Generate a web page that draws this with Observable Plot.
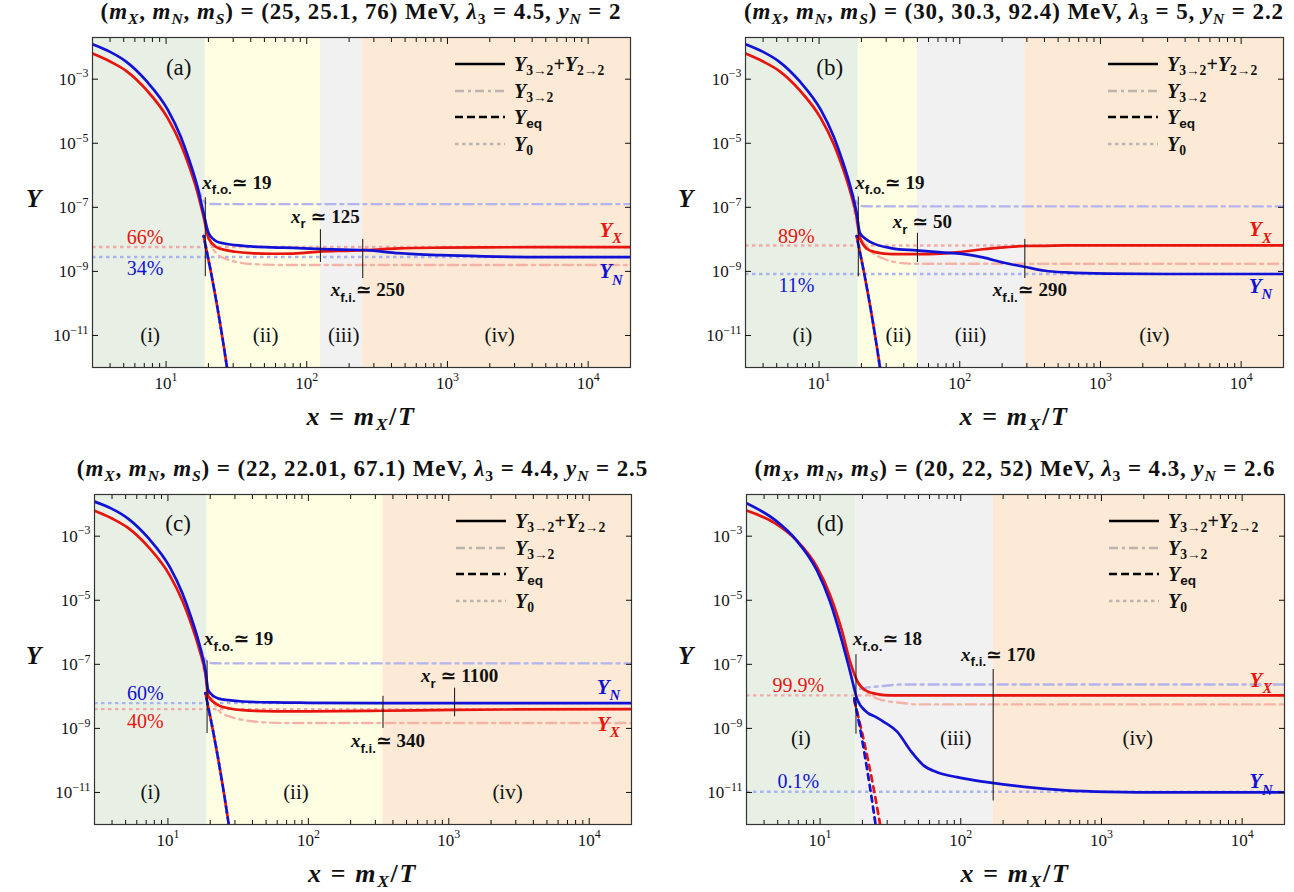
<!DOCTYPE html>
<html><head><meta charset="utf-8">
<script src="https://cdn.jsdelivr.net/npm/d3@7"></script>
<script src="https://cdn.jsdelivr.net/npm/@observablehq/plot@0.6"></script>
<style>
body{margin:0;background:#fff;}
#root{position:relative;width:1294px;height:892px;overflow:hidden;font-family:"Liberation Serif","DejaVu Serif",serif;color:#111;}
.panel{position:absolute;}
.title{position:absolute;text-align:center;font-weight:bold;font-size:23px;letter-spacing:0.9px;white-space:nowrap;line-height:24px;}
.ylab{position:absolute;font-weight:bold;font-style:italic;font-size:25px;}
.xlab{position:absolute;text-align:center;font-weight:bold;font-size:26px;letter-spacing:1.6px;white-space:nowrap;}
.legend{position:absolute;font-weight:bold;font-size:20px;}
.legend .row{position:absolute;left:0;height:24px;white-space:nowrap;}
.legend svg{position:absolute;left:0;top:7px;}
.legend .lt{position:absolute;left:60px;top:0;line-height:24px;}
sub{font-size:0.68em;vertical-align:-0.3em;line-height:0;}
.sans{font-family:"Liberation Sans","DejaVu Sans",sans-serif;}
</style></head>
<body><div id="root"></div>
<script>
// ---------- data ----------
const xMajor = [10, 100, 1000, 10000];
const xMinor = [4,5,6,7,8,9,20,30,40,50,60,70,80,90,200,300,400,500,600,700,800,900,2000,3000,4000,5000,6000,7000,8000,9000];
const yTicks = [1e-3, 1e-5, 1e-7, 1e-9, 1e-11];

// panel (a)
const titleA = ["25", "25.1", "76", "4.5", "2"];
const xA  = [3, 4, 5.2, 7.3, 10.3, 12.7, 14.6, 16.7, 18.5, 20.1, 23, 26, 31, 40, 57, 80, 129, 180, 263, 450, 900, 1800, 5000, 20000];
const yXA = [6.3e-3, 3.55e-3, 1.82e-3, 4.47e-4, 6.0e-5, 9.5e-6, 1.9e-6, 3.0e-7, 5.0e-8, 1.05e-8, 5.6e-9, 4.7e-9, 4.1e-9, 3.7e-9, 3.55e-9, 3.6e-9, 4.2e-9, 4.4e-9, 4.6e-9, 5.25e-9, 5.5e-9, 5.6e-9, 5.75e-9, 5.75e-9];
const yNA = [1.23e-2, 7.1e-3, 3.55e-3, 8.5e-4, 1.1e-4, 1.62e-5, 3.0e-6, 4.4e-7, 6.5e-8, 1.55e-8, 8.5e-9, 7.4e-9, 6.6e-9, 6.0e-9, 5.6e-9, 5.4e-9, 5.0e-9, 4.8e-9, 4.6e-9, 3.7e-9, 3.2e-9, 2.95e-9, 2.8e-9, 2.8e-9];
const ddXA_x = [17, 19, 21, 23, 27, 33, 45, 70, 20000];
const ddXA_y = [3.2e-7, 3.2e-8, 6.3e-9, 3.55e-9, 2.4e-9, 1.9e-9, 1.66e-9, 1.58e-9, 1.58e-9];
const ddNA_x = [14.5, 16, 17.5, 19, 21, 25, 20000];
const ddNA_y = [2e-6, 7e-7, 2.6e-7, 1.4e-7, 1.27e-7, 1.26e-7, 1.26e-7];
const y0A = [5.75e-9, 2.8e-9]; // [X, N]
const boundsA = [3, 19, 125, 250, 20000];
const kindsA = ["i", "ii", "iii", "iv"];
const markA = [{x:19, y1:2.0e-7, y2:6.8e-10}, {x:125, y1:2.0e-8, y2:1.9e-9}, {x:250, y1:1e-8, y2:6.0e-10}];
const markLabA = [{t:"*x*_[f.o.]≃ 19", x:19, y:5.9e-7, k:"fo"}, {t:"*x*_[r] ≃ 125", x:125, y:5.1e-8, k:"r"}, {t:"*x*_[f.i.]≃ 250", x:250, y:2.6e-10, k:"fi"}];
const pctA = [{t:"66%", x:7.1, y:1.15e-8, s:"X"}, {t:"34%", x:7.1, y:1.26e-9, s:"N"}];
const curveLabA = [{t:"*Y*_{*X*}", x:14500, y:1.95e-8, s:"X"}, {t:"*Y*_{*N*}", x:14500, y:9.8e-10, s:"N"}];
const regLabA = [{t:"(i)", x:7.7, y:1e-11}, {t:"(ii)", x:51, y:1e-11}, {t:"(iii)", x:183, y:1e-11}, {t:"(iv)", x:2350, y:1e-11}];
const letterA = {t:"(a)", x:12.3, y:2.3e-3};

// panel (b)
const titleB = ["30", "30.3", "92.4", "5", "2.2"];
const xB  = [3, 4, 5.2, 7.3, 10.3, 12.7, 14.6, 16.7, 18.5, 19.5, 22, 25, 33, 49, 74, 104, 146, 206, 287, 404, 568, 1117, 3000, 20000];
const yXB = [6.3e-3, 3.55e-3, 1.82e-3, 4.47e-4, 6.0e-5, 9.5e-6, 1.9e-6, 3.0e-7, 5.0e-8, 1.12e-8, 5.0e-9, 4.0e-9, 3.47e-9, 3.47e-9, 3.6e-9, 4.1e-9, 4.9e-9, 5.6e-9, 6.2e-9, 6.3e-9, 6.45e-9, 6.45e-9, 6.45e-9, 6.45e-9];
const yNB = [1.23e-2, 7.1e-3, 3.55e-3, 8.5e-4, 1.1e-4, 1.62e-5, 3.0e-6, 4.4e-7, 6.5e-8, 1.6e-8, 9.5e-9, 7.1e-9, 5.25e-9, 4.5e-9, 3.9e-9, 3.5e-9, 2.75e-9, 1.86e-9, 1.4e-9, 1.05e-9, 9.3e-10, 8.5e-10, 8.3e-10, 8.3e-10];
const ddXB_x = [17, 19, 22.8, 28.3, 37.2, 46, 20000];
const ddXB_y = [2.3e-7, 2.0e-8, 4.7e-9, 2.57e-9, 1.86e-9, 1.74e-9, 1.74e-9];
const ddNB_x = [14.5, 16, 17.5, 19, 21, 25, 20000];
const ddNB_y = [2e-6, 7e-7, 2.4e-7, 1.25e-7, 1.08e-7, 1.07e-7, 1.07e-7];
const y0B = [6.45e-9, 8.3e-10];
const boundsB = [3, 19, 50, 290, 20000];
const kindsB = ["i", "ii", "iii", "iv"];
const markB = [{x:19, y1:2.1e-7, y2:6.8e-10}, {x:50, y1:1.55e-8, y2:1.9e-9}, {x:290, y1:1e-8, y2:6.0e-10}];
const markLabB = [{t:"*x*_[f.o.]≃ 19", x:19, y:5.9e-7, k:"fo"}, {t:"*x*_[r] ≃ 50", x:50, y:3.55e-8, k:"r"}, {t:"*x*_[f.i.]≃ 290", x:290, y:2.6e-10, k:"fi"}];
const pctB = [{t:"89%", x:6.9, y:1.26e-8, s:"X"}, {t:"11%", x:6.9, y:3.55e-10, s:"N"}];
const curveLabB = [{t:"*Y*_{*X*}", x:13700, y:2.0e-8, s:"X"}, {t:"*Y*_{*N*}", x:13700, y:3.55e-10, s:"N"}];
const regLabB = [{t:"(i)", x:7.6, y:1e-11}, {t:"(ii)", x:36.6, y:1e-11}, {t:"(iii)", x:119, y:1e-11}, {t:"(iv)", x:2415, y:1e-11}];
const letterB = {t:"(b)", x:11.9, y:2.3e-3};

// panel (c)
const titleC = ["22", "22.01", "67.1", "4.4", "2.5"];
const xC  = [3, 4, 5.2, 7.3, 10.3, 12.7, 14.6, 16.7, 18.5, 19.4, 23, 27, 34, 58, 100, 340, 1100, 3000, 20000];
const yXC = [6.2e-3, 3.55e-3, 1.82e-3, 4.47e-4, 6.0e-5, 9.5e-6, 1.9e-6, 3.0e-7, 5.0e-8, 1.0e-8, 5.25e-9, 4.27e-9, 3.7e-9, 3.4e-9, 3.4e-9, 3.55e-9, 3.8e-9, 3.9e-9, 4.0e-9];
const yNC = [1.2e-2, 7.1e-3, 3.55e-3, 8.5e-4, 1.1e-4, 1.62e-5, 3.0e-6, 4.4e-7, 6.5e-8, 1.5e-8, 8.5e-9, 7.6e-9, 6.9e-9, 6.45e-9, 6.3e-9, 6.15e-9, 6.15e-9, 6.15e-9, 6.15e-9];
const ddXC_x = [17, 19, 21, 23, 27, 33, 45, 70, 20000];
const ddXC_y = [2.3e-7, 2.6e-8, 7.1e-9, 3.6e-9, 2.4e-9, 1.9e-9, 1.58e-9, 1.48e-9, 1.48e-9];
const ddNC_x = [14.5, 16, 17.5, 19, 21, 25, 20000];
const ddNC_y = [2e-6, 7e-7, 2.4e-7, 1.25e-7, 1.08e-7, 1.07e-7, 1.07e-7];
const y0C = [4.0e-9, 6.15e-9];
const boundsC = [3, 19, 340, 20000];
const kindsC = ["i", "ii", "iv"];
const markC = [{x:19, y1:1.26e-7, y2:6.9e-10}, {x:340, y1:1e-8, y2:1e-9}, {x:1100, y1:1.8e-8, y2:2.3e-9}];
const markLabC = [{t:"*x*_[f.o.]≃ 19", x:19, y:6.2e-7, k:"fo"}, {t:"*x*_[f.i.]≃ 340", x:340, y:4.1e-10, k:"fi"}, {t:"*x*_[r] ≃ 1100", x:1100, y:4.3e-8, k:"r"}];
const pctC = [{t:"60%", x:6.9, y:1.23e-8, s:"N"}, {t:"40%", x:6.9, y:1.58e-9, s:"X"}];
const curveLabC = [{t:"*Y*_{*N*}", x:13700, y:1.9e-8, s:"N"}, {t:"*Y*_{*X*}", x:13700, y:1.35e-9, s:"X"}];
const regLabC = [{t:"(i)", x:7.5, y:1e-11}, {t:"(ii)", x:81.6, y:1e-11}, {t:"(iv)", x:2620, y:1e-11}];
const letterC = {t:"(c)", x:11.8, y:2.5e-3};

// Y_eq shared by (a), (b), (c)
const eqABC_x = [18.5, 19, 21, 23, 25, 27, 29];
const eqABC_y = [1.26e-8, 7.1e-9, 7.9e-10, 8.9e-11, 1e-11, 1.12e-12, 1.26e-13];

// panel (d)
const titleD = ["20", "22", "52", "4.3", "2.6"];
const xD  = [3, 4.8, 6.8, 9.5, 11.7, 14.3, 16.3, 18.4, 21.5, 25, 28.5, 35.4, 44, 54.6, 67.8, 94, 153, 283, 558, 1100, 3000, 20000];
const yXD = [6.3e-3, 2.5e-3, 7.4e-4, 1.1e-4, 1.58e-5, 1.12e-6, 1.26e-7, 3.0e-8, 1.45e-8, 1.2e-8, 1.1e-8, 1.07e-8, 1.07e-8, 1.07e-8, 1.07e-8, 1.07e-8, 1.07e-8, 1.07e-8, 1.07e-8, 1.07e-8, 1.07e-8, 1.07e-8];
const yND = [1.07e-2, 3.16e-3, 7.4e-4, 8.5e-5, 9.8e-6, 5.4e-7, 6.2e-8, 7.9e-9, 3.2e-9, 2.24e-9, 1.58e-9, 7.8e-10, 2.0e-10, 6.9e-11, 4.3e-11, 3.0e-11, 2.1e-11, 1.5e-11, 1.17e-11, 1.05e-11, 1.0e-11, 1.0e-11];
const ddXD_x = [16.3, 18.4, 21.5, 25.5, 30, 37.3, 50, 20000];
const ddXD_y = [1.26e-7, 2.8e-8, 1.26e-8, 8.5e-9, 7.1e-9, 6.3e-9, 5.6e-9, 5.6e-9];
const ddND_x = [16.3, 18.1, 22, 28, 37, 20000];
const ddND_y = [6.2e-8, 1.7e-8, 1.9e-8, 2.1e-8, 2.34e-8, 2.34e-8];
const eqXD_x = [17.5, 20, 22, 24, 26, 28];
const eqXD_y = [7.4e-9, 6.6e-10, 9.5e-11, 1.38e-11, 2.0e-12, 2.9e-13];
const eqND_x = [17.5, 20, 22, 24, 26];
const eqND_y = [8.7e-9, 3.9e-10, 3.2e-11, 2.7e-12, 2.2e-13];
const y0D = [1.07e-8, 1.05e-11];
const boundsD = [3, 18, 170, 20000];
const kindsD = ["i", "iii", "iv"];
const markD = [{x:18, y1:2.0e-7, y2:6.6e-10}, {x:170, y1:6.9e-8, y2:5.4e-12}];
const markLabD = [{t:"*x*_[f.o.]≃ 18", x:18, y:6.2e-7, k:"fo"}, {t:"*x*_[f.i.]≃ 170", x:170, y:2.0e-7, k:"fi"}];
const pctD = [{t:"99.9%", x:7.0, y:2.2e-8, s:"X"}, {t:"0.1%", x:7.0, y:2.2e-11, s:"N"}];
const curveLabD = [{t:"*Y*_{*X*}", x:13600, y:3.2e-8, s:"X"}, {t:"*Y*_{*N*}", x:13600, y:2.2e-11, s:"N"}];
const regLabD = [{t:"(i)", x:7.3, y:5e-10}, {t:"(iii)", x:92, y:5e-10}, {t:"(iv)", x:1810, y:5e-10}];
const letterD = {t:"(d)", x:11.8, y:2.5e-3};

// ---------- styles ----------
const REGION_FILL = {i:"#e8f0e6", ii:"#fefee3", iii:"#f1f1f1", iv:"#fdead6"};
const RED = "#e8150e", BLUE = "#1212d4";
const LRED = "#f5b3a8", LBLUE = "#b3b3ee";
const DRED = "#f2a9a9", DBLUE = "#a9b3ef";
const SERIF = "Liberation Serif, DejaVu Serif, serif";

const zipXY = (xs, ys) => xs.map((x, i) => ({x, y: ys[i]}));
const powFmt = d => "10^{" + String(Math.round(Math.log10(d))).replace("-", "\u2212") + "}";

function richify(svg) {
  d3.select(svg).selectAll("text").each(function () {
    const el = this;
    if (el.querySelector("tspan")) return;
    const s = el.textContent;
    if (!/[_^*]/.test(s)) return;
    const fs = parseFloat(getComputedStyle(el).fontSize) || 14;
    const tokens = [];
    let italic = false, level = 0, sans = false, buf = "", i = 0;
    const flush = () => { if (buf) tokens.push({t: buf, italic, level, sans}); buf = ""; };
    while (i < s.length) {
      const c = s[i];
      if (c === "*") { flush(); italic = !italic; i++; continue; }
      if ((c === "_" || c === "^") && (s[i + 1] === "{" || s[i + 1] === "[")) {
        flush(); level = c === "_" ? -1 : 1; sans = s[i + 1] === "["; i += 2; continue;
      }
      if ((c === "}" || c === "]") && level !== 0) { flush(); level = 0; sans = false; i++; continue; }
      buf += c; i++;
    }
    flush();
    el.textContent = "";
    let cur = 0;
    for (const tk of tokens) {
      const off = tk.level === -1 ? 0.3 * fs : tk.level === 1 ? -0.42 * fs : 0;
      const sp = d3.select(el).append("tspan").text(tk.t);
      if (off !== cur) sp.attr("dy", off - cur);
      cur = off;
      if (tk.italic) sp.attr("font-style", "italic");
      if (tk.level) sp.attr("font-size", (0.7 * fs).toFixed(1));
      if (tk.sans) sp.attr("font-family", "Liberation Sans, DejaVu Sans, sans-serif");
    }
  });
}

const root = document.getElementById("root");

function drawPanel(p, lay) {
  const wrap = document.createElement("div");
  wrap.className = "panel";
  Object.assign(wrap.style, {left: lay.left + "px", top: lay.top + "px", width: lay.width + "px", height: "440px"});
  root.appendChild(wrap);

  const rows = p.x.map((x, i) => ({x, yX: p.yX[i], yN: p.yN[i]}));
  const regions = d3.pairs(p.bounds).map(([x1, x2], i) => ({x1, x2, kind: p.kinds[i]}));
  const frameW = lay.width - lay.ml - lay.mr;

  const svg = Plot.plot({
    width: lay.width,
    height: 373,
    marginLeft: lay.ml, marginRight: lay.mr, marginTop: 11, marginBottom: 32,
    x: {type: "log", domain: [3, 20000]},
    y: {type: "log", domain: [1e-12, 2e-2]},
    color: {type: "identity"},
    style: {fontFamily: SERIF, fontSize: "17px", background: "transparent", overflow: "visible", color: "#111"},
    marks: [
      Plot.rect(regions, {x1: "x1", x2: "x2", fill: d => REGION_FILL[d.kind]}),
      Plot.ruleY([p.y0[0]], {stroke: DRED, strokeWidth: 2.4, strokeDasharray: "3.5,3.5"}),
      Plot.ruleY([p.y0[1]], {stroke: DBLUE, strokeWidth: 2.4, strokeDasharray: "3.5,3.5"}),
      Plot.line(p.ddX, {x: "x", y: "y", stroke: LRED, strokeWidth: 2.4, strokeDasharray: "10,5,3,5", curve: "monotone-x", clip: true}),
      Plot.line(p.ddN, {x: "x", y: "y", stroke: LBLUE, strokeWidth: 2.4, strokeDasharray: "10,5,3,5", curve: "monotone-x", clip: true}),
      Plot.line(rows, {x: "x", y: "yX", stroke: RED, strokeWidth: 2.7, curve: "monotone-x", clip: true}),
      Plot.line(rows, {x: "x", y: "yN", stroke: BLUE, strokeWidth: 2.7, curve: "monotone-x", clip: true}),
      Plot.line(p.eqX, {x: "x", y: "y", stroke: RED, strokeWidth: 2.7, strokeDasharray: "6,5", curve: "monotone-x", clip: true}),
      Plot.line(p.eqN, {x: "x", y: "y", stroke: BLUE, strokeWidth: 2.7, strokeDasharray: "6,5", strokeDashoffset: p.eqShared ? 5.5 : 0, curve: "monotone-x", clip: true}),
      Plot.ruleX(p.marks, {x: "x", y1: "y1", y2: "y2", stroke: "#111", strokeWidth: 1}),
      Plot.text(p.markLab.filter(d => d.k === "fo"), {x: "x", y: "y", text: "t", textAnchor: "start", dx: -3, fontSize: 19, fontWeight: "bold", fill: "#111"}),
      Plot.text(p.markLab.filter(d => d.k !== "fo"), {x: "x", y: "y", text: "t", textAnchor: "middle", dx: 5, fontSize: 19, fontWeight: "bold", fill: "#111"}),
      Plot.text(p.pct, {x: "x", y: "y", text: "t", fontSize: 20, fill: d => d.s === "X" ? RED : BLUE}),
      Plot.text(p.curveLab, {x: "x", y: "y", text: "t", fontSize: 21, fontWeight: "bold", fill: d => d.s === "X" ? RED : BLUE}),
      Plot.text(p.regLab, {x: "x", y: "y", text: "t", fontSize: 21, fill: "#111"}),
      Plot.text([p.letter], {x: "x", y: "y", text: "t", fontSize: 23, fill: "#111"}),
      Plot.frame({stroke: "#333", strokeWidth: 1.2}),
      Plot.axisX({anchor: "bottom", ticks: xMajor, tickSize: -6, tickPadding: 15, tickFormat: powFmt, fontSize: 17, label: null}),
      Plot.axisX({anchor: "bottom", ticks: xMinor, tickSize: -4, tickFormat: () => "", label: null}),
      Plot.axisX({anchor: "top", ticks: xMajor, tickSize: -6, tickFormat: () => "", label: null}),
      Plot.axisX({anchor: "top", ticks: xMinor, tickSize: -4, tickFormat: () => "", label: null}),
      Plot.axisY({anchor: "left", ticks: yTicks, tickSize: -6, tickPadding: 10, tickFormat: powFmt, fontSize: 17, label: null}),
      Plot.axisY({anchor: "right", ticks: yTicks, tickSize: -6, tickFormat: () => "", label: null})
    ]
  });
  Object.assign(svg.style, {position: "absolute", left: "0px", top: "26px"});
  wrap.appendChild(svg);
  richify(svg);

  // title
  const t = p.title;
  const title = document.createElement("div");
  title.className = "title";
  Object.assign(title.style, {left: (lay.ml - 30) + "px", width: (frameW + 60) + "px", top: "0px"});
  title.innerHTML = `(<i>m</i><sub><i>X</i></sub>, <i>m</i><sub><i>N</i></sub>, <i>m</i><sub><i>S</i></sub>) = (${t[0]}, ${t[1]}, ${t[2]}) MeV, <i>λ</i><sub>3</sub> = ${t[3]}, <i>y</i><sub><i>N</i></sub> = ${t[4]}`;
  wrap.appendChild(title);

  // axis labels
  const yl = document.createElement("div");
  yl.className = "ylab";
  Object.assign(yl.style, {left: "26px", top: "185px"});
  yl.textContent = "Y";
  wrap.appendChild(yl);
  const xl = document.createElement("div");
  xl.className = "xlab";
  Object.assign(xl.style, {left: lay.ml + "px", width: frameW + "px", top: "402px"});
  xl.innerHTML = `<i>x</i> = <i>m</i><sub><i>X</i></sub>/<i>T</i>`;
  wrap.appendChild(xl);

  // legend
  const lg = document.createElement("div");
  lg.className = "legend";
  Object.assign(lg.style, {left: (lay.width - lay.mr - 176) + "px", top: "52px"});
  const items = [
    {html: `<i>Y</i><sub>3→2</sub>+<i>Y</i><sub>2→2</sub>`, stroke: "#000", dash: null},
    {html: `<i>Y</i><sub>3→2</sub>`, stroke: "#bdb4ac", dash: "9,4,3,4"},
    {html: `<i>Y</i><sub class="sans">eq</sub>`, stroke: "#000", dash: "8,4"},
    {html: `<i>Y</i><sub>0</sub>`, stroke: "#bdb4ac", dash: "3.5,3.5"}
  ];
  items.forEach((it, i) => {
    const row = document.createElement("div");
    row.className = "row";
    row.style.top = (i * 26.5) + "px";
    row.innerHTML = `<svg width="52" height="10"><line x1="1" x2="51" y1="5" y2="5" stroke="${it.stroke}" stroke-width="2.6" ${it.dash ? `stroke-dasharray="${it.dash}"` : ""}/></svg><span class="lt">${it.html}</span>`;
    lg.appendChild(row);
  });
  wrap.appendChild(lg);
}

const panelA = {title: titleA, x: xA, yX: yXA, yN: yNA, ddX: zipXY(ddXA_x, ddXA_y), ddN: zipXY(ddNA_x, ddNA_y), eqX: zipXY(eqABC_x, eqABC_y), eqN: zipXY(eqABC_x, eqABC_y), eqShared: true, y0: y0A, bounds: boundsA, kinds: kindsA, marks: markA, markLab: markLabA, pct: pctA, curveLab: curveLabA, regLab: regLabA, letter: letterA};
const panelB = {title: titleB, x: xB, yX: yXB, yN: yNB, ddX: zipXY(ddXB_x, ddXB_y), ddN: zipXY(ddNB_x, ddNB_y), eqX: zipXY(eqABC_x, eqABC_y), eqN: zipXY(eqABC_x, eqABC_y), eqShared: true, y0: y0B, bounds: boundsB, kinds: kindsB, marks: markB, markLab: markLabB, pct: pctB, curveLab: curveLabB, regLab: regLabB, letter: letterB};
const panelC = {title: titleC, x: xC, yX: yXC, yN: yNC, ddX: zipXY(ddXC_x, ddXC_y), ddN: zipXY(ddNC_x, ddNC_y), eqX: zipXY(eqABC_x, eqABC_y), eqN: zipXY(eqABC_x, eqABC_y), eqShared: true, y0: y0C, bounds: boundsC, kinds: kindsC, marks: markC, markLab: markLabC, pct: pctC, curveLab: curveLabC, regLab: regLabC, letter: letterC};
const panelD = {title: titleD, x: xD, yX: yXD, yN: yND, ddX: zipXY(ddXD_x, ddXD_y), ddN: zipXY(ddND_x, ddND_y), eqX: zipXY(eqXD_x, eqXD_y), eqN: zipXY(eqND_x, eqND_y), eqShared: false, y0: y0D, bounds: boundsD, kinds: kindsD, marks: markD, markLab: markLabD, pct: pctD, curveLab: curveLabD, regLab: regLabD, letter: letterD};

drawPanel(panelA, {left: 0, top: 0, width: 646, ml: 92, mr: 16});
drawPanel(panelB, {left: 652, top: 0, width: 642, ml: 93, mr: 11});
drawPanel(panelC, {left: 0, top: 457, width: 646, ml: 94, mr: 15});
drawPanel(panelD, {left: 652, top: 457, width: 642, ml: 94, mr: 10});
</script>
</body></html>
